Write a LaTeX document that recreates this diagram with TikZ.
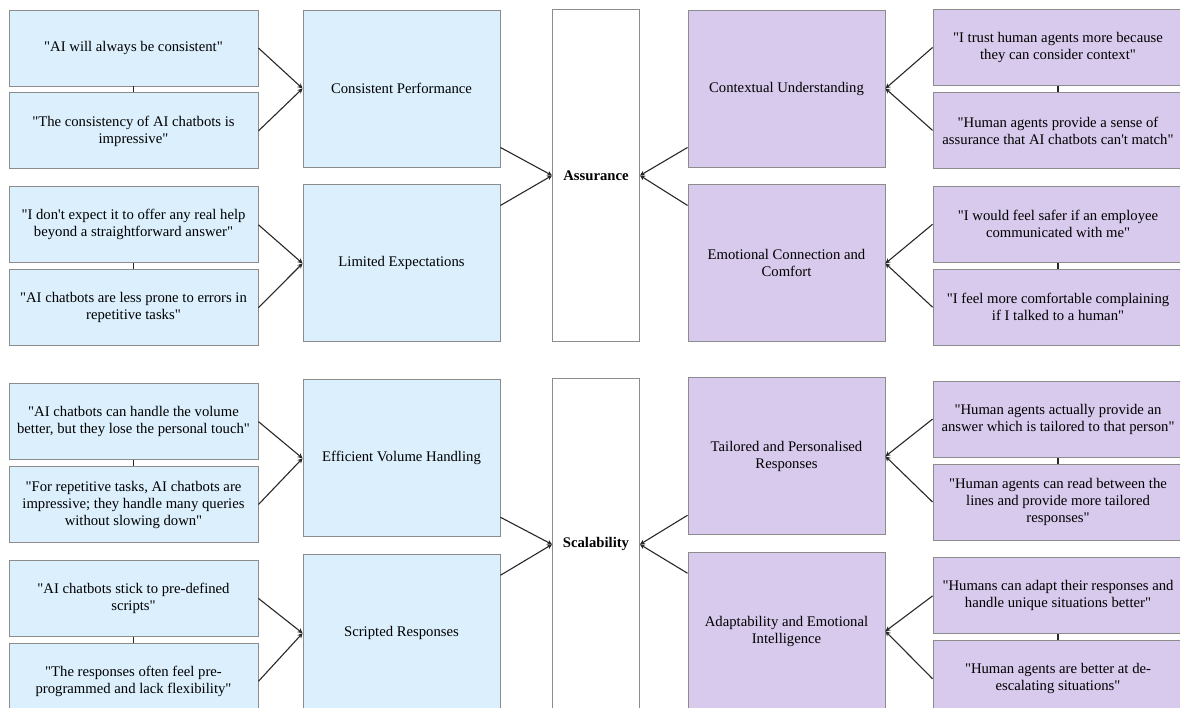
\documentclass[tikz,border=0pt]{standalone}
\usepackage{fontspec}
\setmainfont{Liberation Serif}[Ligatures=TeXOff]
\usepackage{tikz}
\usetikzlibrary{arrows.meta, positioning}

\definecolor{aiblue}{RGB}{219,239,253}
\definecolor{humanlilac}{RGB}{216,202,236}
\definecolor{edgegray}{RGB}{140,140,140}
\definecolor{wire}{RGB}{40,40,40}

\begin{document}
\begin{tikzpicture}[x=1pt, y=-1pt,
  every node/.style={font=\fontsize{14.7}{17}\selectfont, align=center, inner sep=0pt},
  quoteL/.style ={rectangle, draw=edgegray, line width=0.9pt, fill=aiblue,
                  minimum width=249pt, minimum height=76pt},
  quoteR/.style ={quoteL, fill=humanlilac, minimum width=250pt},
  themeL/.style ={rectangle, draw=edgegray, line width=0.9pt, fill=aiblue,
                  minimum width=197pt, minimum height=157pt},
  themeR/.style ={themeL, fill=humanlilac},
  dim/.style    ={rectangle, draw=edgegray, line width=0.9pt, fill=white,
                  minimum width=87pt, minimum height=332pt,
                  font=\fontsize{14.7}{17}\selectfont\bfseries},
  arr/.style    ={-{Stealth[length=5pt,width=5pt]}, line width=1.1pt, wire},
  tick/.style   ={line width=1.4pt, wire},
]
\useasboundingbox (0,0) rectangle (1180,707);
\clip (0,0) rectangle (1180,707);

% Dimensions
\node[dim] (asr) at (596,175.5) {Assurance};
\node[dim, below=36pt of asr] (sca) {Scalability};

% AI themes
\node[themeL] (cp) at (401.5,88.5) {Consistent Performance};
\node[themeL, below=17pt of cp] (le) {Limited Expectations};
\node[themeL, below=37pt of le] (ev) {Efficient Volume Handling};
\node[themeL, below=17pt of ev] (sr) {Scripted Responses};

% Human themes
\node[themeR] (cu) at (786.5,88.5) {Contextual Understanding};
\node[themeR, below=17pt of cu] (ec) {Emotional Connection and\\Comfort};
\node[themeR, below=35pt of ec] (tp) {Tailored and Personalised\\Responses};
\node[themeR, below=17pt of tp] (ad) {Adaptability and Emotional\\Intelligence};

% AI quotes
\node[quoteL] (q1) at (133.5,48) {"AI will always be consistent"};
\node[quoteL, below=6pt of q1] (q2) {"The consistency of AI chatbots is\\impressive"};
\node[quoteL, below=17pt of q2] (q3) {"I don't expect it to offer any real help\\beyond a straightforward answer"};
\node[quoteL, below=6pt of q3] (q4) {"AI chatbots are less prone to errors in\\repetitive tasks"};
\node[quoteL, below=37pt of q4] (q5) {"AI chatbots can handle the volume\\better, but they lose the personal touch"};
\node[quoteL, below=6pt of q5] (q6) {"For repetitive tasks, AI chatbots are\\impressive; they handle many queries\\without slowing down"};
\node[quoteL, below=17pt of q6] (q7) {"AI chatbots stick to pre-defined\\scripts"};
\node[quoteL, below=6pt of q7] (q8) {"The responses often feel pre-\\programmed and lack flexibility"};

% Human quotes
\node[quoteR] (h1) at (1058,47.5) {"I trust human agents more because\\they can consider context"};
\node[quoteR, below=6pt of h1] (h2) {"Human agents provide a sense of\\assurance that AI chatbots can't match"};
\node[quoteR, below=17pt of h2] (h3) {"I would feel safer if an employee\\communicated with me"};
\node[quoteR, below=6pt of h3] (h4) {"I feel more comfortable complaining\\if I talked to a human"};
\node[quoteR, below=35pt of h4] (h5) {"Human agents actually provide an\\answer which is tailored to that person"};
\node[quoteR, below=6pt of h5] (h6) {"Human agents can read between the\\lines and provide more tailored\\responses"};
\node[quoteR, below=17pt of h6] (h7) {"Humans can adapt their responses and\\handle unique situations better"};
\node[quoteR, below=6pt of h7] (h8) {"Human agents are better at de-\\escalating situations"};

% Quote ticks
\draw[tick] (q1.south) -- (q2.north);
\draw[tick] (q3.south) -- (q4.north);
\draw[tick] (q5.south) -- (q6.north);
\draw[tick] (q7.south) -- (q8.north);
\draw[tick] (h1.south) -- (h2.north);
\draw[tick] (h3.south) -- (h4.north);
\draw[tick] (h5.south) -- (h6.north);
\draw[tick] (h7.south) -- (h8.north);

% Quotes into AI themes
\draw[arr] (q1.east) -- (cp.west);
\draw[arr] (q2.east) -- (cp.west);
\draw[arr] (q3.east) -- (le.west);
\draw[arr] (q4.east) -- (le.west);
\draw[arr] (q5.east) -- (ev.west);
\draw[arr] (q6.east) -- (ev.west);
\draw[arr] (q7.east) -- (sr.west);
\draw[arr] (q8.east) -- (sr.west);

% Quotes into human themes
\draw[arr] (h1.west) -- (cu.east);
\draw[arr] (h2.west) -- (cu.east);
\draw[arr] (h3.west) -- (ec.east);
\draw[arr] (h4.west) -- (ec.east);
\draw[arr] (h5.west) -- (tp.east);
\draw[arr] (h6.west) -- (tp.east);
\draw[arr] (h7.west) -- (ad.east);
\draw[arr] (h8.west) -- (ad.east);

% Themes into dimensions
\draw[arr] ([yshift=20pt]cp.south east) -- (asr.west);
\draw[arr] ([yshift=-21pt]le.north east) -- (asr.west);
\draw[arr] ([yshift=20pt]cu.south west) -- (asr.east);
\draw[arr] ([yshift=-21pt]ec.north west) -- (asr.east);
\draw[arr] ([yshift=20pt]ev.south east) -- (sca.west);
\draw[arr] ([yshift=-21pt]sr.north east) -- (sca.west);
\draw[arr] ([yshift=20pt]tp.south west) -- (sca.east);
\draw[arr] ([yshift=-21pt]ad.north west) -- (sca.east);

\end{tikzpicture}
\end{document}
